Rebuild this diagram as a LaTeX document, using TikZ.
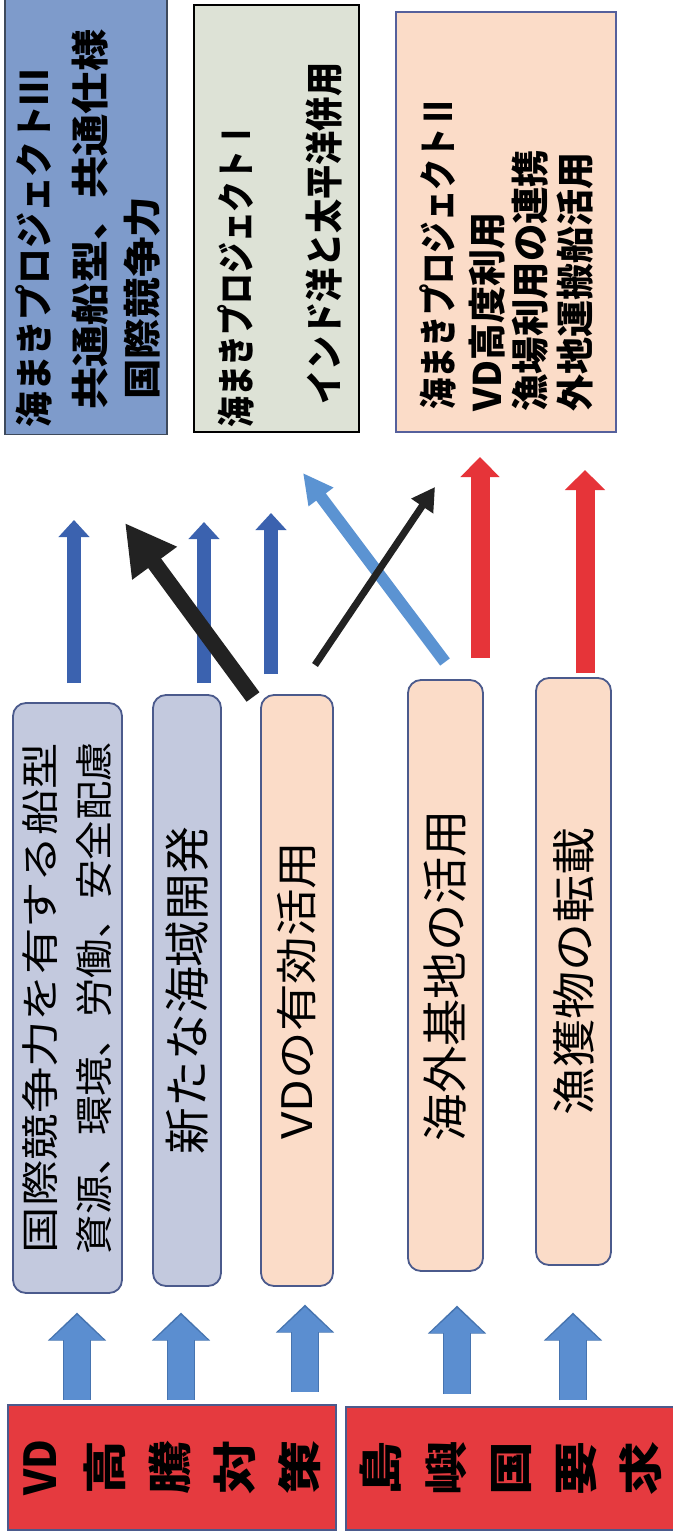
\documentclass[tikz,border=0pt]{standalone}
\usepackage{fontspec}
\usepackage{graphicx}
\newfontfamily\jp{Noto Sans CJK JP}
\usetikzlibrary{arrows.meta}
\newcommand\sx[2]{\resizebox{#1}{\height}{#2}}
\definecolor{boxA}{HTML}{7E9BCB}
\definecolor{boxAb}{HTML}{3E4A5C}
\definecolor{boxB}{HTML}{DDE2D6}
\definecolor{peach}{HTML}{FBDCC8}
\definecolor{peachb}{HTML}{55609C}
\definecolor{lav}{HTML}{C3C9DE}
\definecolor{mborder}{HTML}{4B5A8C}
\definecolor{redbox}{HTML}{E53A3F}
\definecolor{darkblue}{HTML}{3B62AF}
\definecolor{lightblue}{HTML}{5B93D2}
\definecolor{blockblue}{HTML}{5B8ED0}
\definecolor{blockline}{HTML}{4674B0}
\definecolor{redarr}{HTML}{E63439}
\definecolor{blackarr}{HTML}{222222}
\begin{document}
\begin{tikzpicture}[x=0.5pt,y=-0.5pt,
  topbox/.style={inner sep=0, line width=0.8pt},
  ttext/.style={rotate=90, anchor=west, inner sep=0, font=\jp\bfseries\fontsize{19pt}{19pt}\selectfont},
  mbox/.style={rotate=90, draw=mborder, line width=0.9pt, rounded corners=6.5pt, inner sep=0, align=center},
  rbox/.style={rotate=90, draw=mborder, line width=0.8pt, fill=redbox, inner sep=0, align=center,
    font=\jp\bfseries\fontsize{22pt}{32.5pt}\selectfont},
  darkup/.style={draw=darkblue, line width=7pt, -{Triangle[width=15pt,length=8.5pt]}},
  redup/.style={draw=redarr, line width=9.5pt, -{Triangle[width=19pt,length=10pt]}},
  blockout/.style={draw=blockline, line width=14.2pt, -{Triangle[width=28.4pt,length=14pt]}},
  blockup/.style={draw=blockblue, line width=13pt, -{Triangle[width=26pt,length=12.5pt]}}
]
\useasboundingbox (0,0) rectangle (673,1536);
\fill[white] (0,0) rectangle (673,1536);

% top boxes
\node[topbox, draw=boxAb, fill=boxA, minimum width=81pt, minimum height=218.5pt] (A) at (86,216) {};
\node[topbox, draw=black, fill=boxB, minimum width=82.5pt, minimum height=213.5pt] (B) at (276.5,218.5) {};
\node[topbox, draw=peachb, fill=peach, minimum width=110pt, minimum height=210pt] (C) at (506,222) {};

\node[ttext] (a1) at (34,428) {\sx{179pt}{海まきプロジェクトⅢ}};
\node[ttext] (a2) at (90,410) {\sx{190pt}{共通船型、共通仕様}};
\node[ttext] (a3) at (142,400) {\sx{101.5pt}{国際競争力}};

\node[ttext] (b1) at (236,428) {\sx{154pt}{海まきプロジェクトⅠ}};
\node[ttext] (b2) at (324,405) {\sx{171pt}{インド洋と太平洋併用}};

\node[ttext] (c1) at (438,410) {\sx{156.5pt}{海まきプロジェクトⅡ}};
\node[ttext] (c2) at (487,412) {\sx{99.5pt}{VD高度利用}};
\node[ttext] (c3) at (530,412) {\sx{131pt}{漁場利用の連携}};
\node[ttext] (c4) at (575,412) {\sx{129.5pt}{外地運搬船活用}};

% middle boxes
\node[mbox, fill=lav, minimum width=295pt, minimum height=54.5pt,
  font=\jp\fontsize{19pt}{27pt}\selectfont] (m1) at (67.5,998)
  {\sx{255pt}{国際競争力を有する船型}\\\sx{256pt}{資源、環境、労働、安全配慮}};
\node[mbox, fill=lav, minimum width=295.5pt, minimum height=34pt,
  font=\jp\fontsize{23pt}{23pt}\selectfont] (m2) at (187,990.5) {\sx{163.5pt}{新たな海域開発}};
\node[mbox, fill=peach, minimum width=295.5pt, minimum height=36pt,
  font=\jp\fontsize{21pt}{21pt}\selectfont] (m3) at (297,990.5) {\sx{149pt}{VDの有効活用}};
\node[mbox, fill=peach, minimum width=295.5pt, minimum height=37.5pt,
  font=\jp\fontsize{23pt}{23pt}\selectfont] (m4) at (445.5,975.5) {\sx{165.5pt}{海外基地の活用}};
\node[mbox, fill=peach, minimum width=293.5pt, minimum height=37.5pt,
  font=\jp\fontsize{22pt}{22pt}\selectfont] (m5) at (573.5,971.5) {\sx{144pt}{漁獲物の転載}};

% red boxes
\node[rbox, minimum width=62.5pt, minimum height=164pt] (rL) at (172,1467.5)
  {\sx{28pt}{VD}\\\sx{27pt}{高}\\\sx{27pt}{騰}\\\sx{27pt}{対}\\\sx{27pt}{策}};
\node[rbox, minimum width=61.5pt, minimum height=165pt] (rR) at (511,1468.5)
  {\sx{27pt}{島}\\\sx{27pt}{嶼}\\\sx{27pt}{国}\\\sx{27pt}{要}\\\sx{27pt}{求}};

% arrow end points
\coordinate (u1s) at (74,683);  \coordinate (u1e) at (74,520);
\coordinate (u2s) at (204,683); \coordinate (u2e) at (204,522);
\coordinate (u3s) at (271,674); \coordinate (u3e) at (271,513);
\coordinate (bks) at (253,697); \coordinate (bke) at (125,523);
\coordinate (bts) at (315,665); \coordinate (bte) at (435,487);
\coordinate (lbs) at (445,662); \coordinate (lbe) at (303,473);
\coordinate (r1s) at (480,658); \coordinate (r1e) at (480,457);
\coordinate (r2s) at (585,673); \coordinate (r2e) at (585,470);
\coordinate (k1s) at (77,1400);  \coordinate (k1e) at (77,1315);
\coordinate (k2s) at (181,1400); \coordinate (k2e) at (181,1315);
\coordinate (k3s) at (305,1392); \coordinate (k3e) at (305,1307);
\coordinate (k4s) at (457,1394); \coordinate (k4e) at (457,1308);
\coordinate (k5s) at (573,1400); \coordinate (k5e) at (573,1315);

% bottom block arrows (outline, then fill)
\foreach \k in {k1,k2,k3,k4,k5}{
  \draw[blockout] (\k s) -- ([yshift=1.2pt]\k e);
  \draw[blockup] (\k s) -- (\k e);
}

% upper arrows
\draw[darkup] (u1s) -- (u1e);
\draw[darkup] (u2s) -- (u2e);
\draw[darkup] (u3s) -- (u3e);
\draw[redup] (r1s) -- (r1e);
\draw[redup, -{Triangle[width=19.5pt,length=10pt]}] (r2s) -- (r2e);
\draw[draw=lightblue, line width=6pt, -{Triangle[width=14.5pt,length=15pt]}] (lbs) -- (lbe);
\draw[draw=blackarr, line width=3.5pt, -{Triangle[width=12.5pt,length=11.5pt]}] (bts) -- (bte);
\draw[draw=blackarr, line width=8pt, -{Triangle[width=26pt,length=25pt]}] (bks) -- (bke);
\end{tikzpicture}
\end{document}
